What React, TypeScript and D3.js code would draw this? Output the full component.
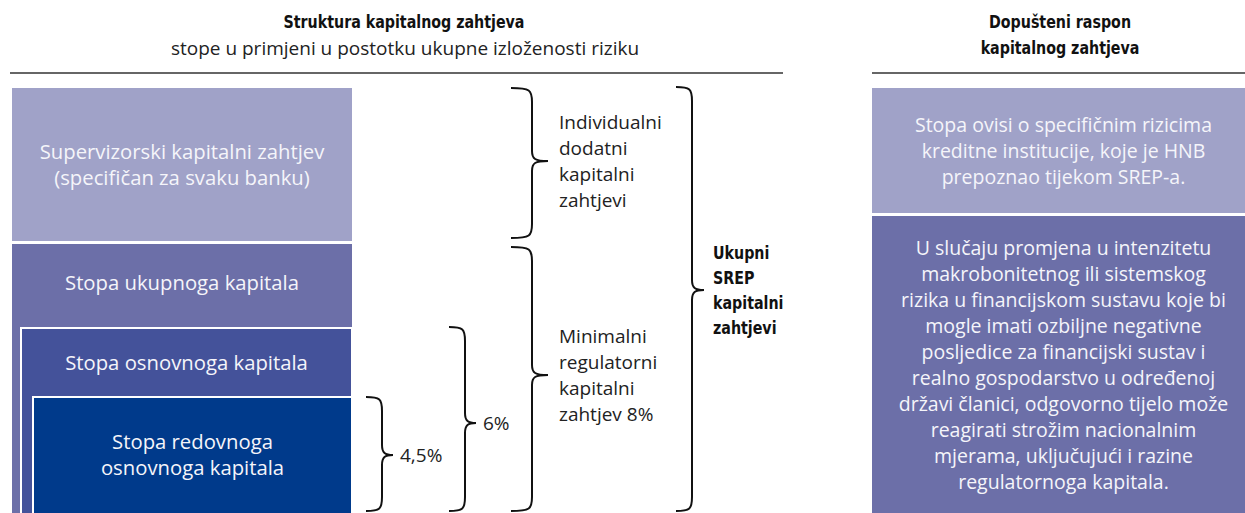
import React from "react";
import * as d3 from "d3";

// ---------- DATA ----------
const titleLeft = "Struktura kapitalnog zahtjeva";
const subtitleLeft = "stope u primjeni u postotku ukupne izloženosti riziku";
const titleRight = ["Dopušteni raspon", "kapitalnog zahtjeva"];

const layerNames = ["supervisory", "total", "tier1", "cet1"];
const layerLabels = [
  ["Supervizorski kapitalni zahtjev", "(specifičan za svaku banku)"],
  ["Stopa ukupnoga kapitala"],
  ["Stopa osnovnoga kapitala"],
  ["Stopa redovnoga", "osnovnoga kapitala"],
];

const braceNames = ["cet1", "tier1", "minimum", "individual", "srep"];
const braceLabels = [
  ["4,5%"],
  ["6%"],
  ["Minimalni", "regulatorni", "kapitalni", "zahtjev 8%"],
  ["Individualni", "dodatni", "kapitalni", "zahtjevi"],
  ["Ukupni", "SREP", "kapitalni", "zahtjevi"],
];

const rightLabels = [
  ["Stopa ovisi o specifičnim rizicima", "kreditne institucije, koje je HNB", "prepoznao tijekom SREP-a."],
  [
    "U slučaju promjena u intenzitetu",
    "makrobonitetnog ili sistemskog",
    "rizika u financijskom sustavu koje bi",
    "mogle imati ozbiljne negativne",
    "posljedice za financijski sustav i",
    "realno gospodarstvo u određenoj",
    "državi članici, odgovorno tijelo može",
    "reagirati strožim nacionalnim",
    "mjerama, uključujući i razine",
    "regulatornoga kapitala.",
  ],
];

// ---------- LAYOUT / STYLE ----------
const W = 1245;
const H = 513;
const bodyFont = "'Open Sans', 'Noto Sans', sans-serif";
const boldFont = "'DejaVu Sans Condensed', 'Liberation Sans Narrow', 'Open Sans', sans-serif";
const fs = 19;
const lh = 26;
const boldSquash = 0.88;

const layerColors = ["#a0a2c8", "#6c6fa8", "#44529a", "#003a8b"];
const layerStyle: Record<string, { x: number; y: number; labelY: number }> = {
  supervisory: { x: 12, y: 88, labelY: 165 },
  total: { x: 12, y: 244, labelY: 283 },
  tier1: { x: 21, y: 328, labelY: 363 },
  cet1: { x: 33, y: 397, labelY: 455 },
};
const layerRight = 352;
const supervisoryBottom = 241;

const braceGeom: Record<string, { x0: number; xv: number; xt: number; top: number; bot: number; tip: number; tx: number; lead: boolean }> = {
  cet1: { x0: 366, xv: 382, xt: 393, top: 397, bot: 511, tip: 455, tx: 400, lead: false },
  tier1: { x0: 449, xv: 465, xt: 476, top: 327, bot: 511, tip: 423, tx: 483, lead: false },
  minimum: { x0: 511, xv: 532, xt: 548, top: 247, bot: 511, tip: 375, tx: 559, lead: false },
  individual: { x0: 511, xv: 532, xt: 548, top: 88, bot: 238, tip: 161, tx: 559, lead: false },
  srep: { x0: 676, xv: 692, xt: 704, top: 87, bot: 511, tip: 290, tx: 713, lead: true },
};

const rightBoxes = [
  { y: 88, h: 125, color: "#a0a2c8", cy: 151 },
  { y: 216, h: 300, color: "#6c6fa8", cy: 365 },
];
const rightX0 = 872;

function bracePath(g: { x0: number; xv: number; xt: number; top: number; bot: number; tip: number }) {
  const p = d3.path();
  const r = 14;
  const rt = 10;
  p.moveTo(g.x0, g.top);
  p.bezierCurveTo(g.xv - 2, g.top, g.xv, g.top + 2, g.xv, g.top + r);
  p.lineTo(g.xv, g.tip - rt);
  p.bezierCurveTo(g.xv, g.tip - 2, g.xv + 3, g.tip, g.xt, g.tip);
  p.bezierCurveTo(g.xv + 3, g.tip, g.xv, g.tip + 2, g.xv, g.tip + rt);
  p.lineTo(g.xv, g.bot - r);
  p.bezierCurveTo(g.xv, g.bot - 2, g.xv - 2, g.bot, g.x0, g.bot);
  return p.toString();
}

function Lines({ lines, x, cy, anchor, fill, font, weight, size, spacing }: any) {
  const n = lines.length;
  const bold = weight === 700;
  const t = (
    <text x={x} textAnchor={anchor} fill={fill} fontFamily={font} fontWeight={weight} fontSize={size}>
      {lines.map((l: string, i: number) => (
        <tspan key={i} x={x} y={cy + (i - (n - 1) / 2) * spacing} dy="0.35em">
          {l}
        </tspan>
      ))}
    </text>
  );
  if (!bold) return t;
  return <g transform={`translate(${x},0) scale(${boldSquash},1) translate(${-x},0)`}>{t}</g>;
}

export default function App() {
  const rightCenter = (rightX0 + 1255) / 2;
  return (
    <svg width={W} height={H} style={{ position: "absolute", left: 0, top: 0, background: "#fff" }}>
      {/* headers */}
      <Lines lines={[titleLeft]} x={404} cy={22} anchor="middle" fill="#111" font={boldFont} weight={700} size={18} spacing={lh} />
      <Lines lines={[subtitleLeft]} x={405} cy={48} anchor="middle" fill="#222" font={bodyFont} weight={400} size={fs} spacing={lh} />
      <line x1={10} x2={783} y1={73} y2={73} stroke="#333" strokeWidth={1.5} />
      <Lines lines={titleRight} x={1060} cy={35} anchor="middle" fill="#111" font={boldFont} weight={700} size={18} spacing={26} />
      <line x1={rightX0} x2={W} y1={73} y2={73} stroke="#333" strokeWidth={1.5} />

      {/* layered blocks */}
      {layerNames.map((name, i) => {
        const s = layerStyle[name];
        const bottom = name === "supervisory" ? supervisoryBottom : H + 10;
        const inset = name === "tier1" || name === "cet1";
        return (
          <rect
            key={name}
            x={s.x}
            y={s.y}
            width={layerRight - s.x}
            height={bottom - s.y}
            fill={layerColors[i]}
            stroke={inset ? "#fff" : "none"}
            strokeWidth={inset ? 2 : 0}
          />
        );
      })}
      {layerNames.map((name, i) => {
        const s = layerStyle[name];
        return (
          <Lines
            key={name}
            lines={layerLabels[i]}
            x={(s.x + layerRight) / 2}
            cy={s.labelY}
            anchor="middle"
            fill="#f5f5fa"
            font={bodyFont}
            weight={400}
            size={20.3}
            spacing={lh}
          />
        );
      })}

      {/* braces */}
      {braceNames.map((name, i) => {
        const g = braceGeom[name];
        return (
          <g key={name}>
            <path d={bracePath(g)} fill="none" stroke="#111" strokeWidth={2} />
            <Lines
              lines={braceLabels[i]}
              x={g.tx}
              cy={g.tip}
              anchor="start"
              fill={g.lead ? "#111" : "#222"}
              font={g.lead ? boldFont : bodyFont}
              weight={g.lead ? 700 : 400}
              size={g.lead ? 18 : fs}
              spacing={g.lead ? 25 : lh}
            />
          </g>
        );
      })}

      {/* right panel */}
      {rightBoxes.map((b, i) => (
        <g key={i}>
          <rect x={rightX0} y={b.y} width={W - rightX0} height={b.h} fill={b.color} />
          <Lines lines={rightLabels[i]} x={rightCenter} cy={b.cy} anchor="middle" fill="#f5f5fa" font={bodyFont} weight={400} size={19.5} spacing={lh} />
        </g>
      ))}
    </svg>
  );
}
